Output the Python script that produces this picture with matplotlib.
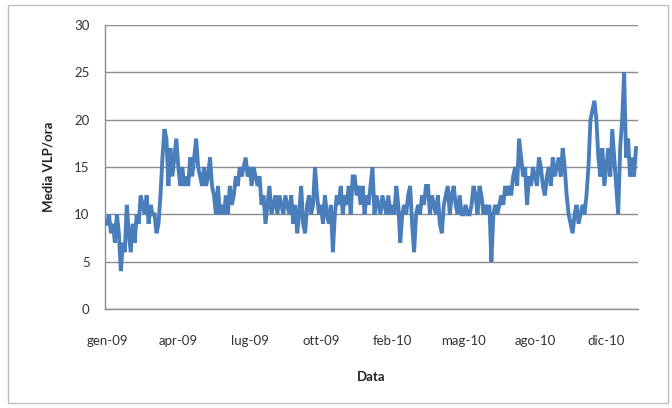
import matplotlib
matplotlib.use("Agg")
import matplotlib.pyplot as plt
from matplotlib.patches import Rectangle

# Daily average VLP per hour, Jan 2009 - Dec 2010
media_vlp_ora = [
    9, 10, 8, 9, 7, 10, 8, 4, 7, 6, 11, 8,
    6, 9, 7, 10, 9, 12, 11, 10, 12, 9, 11, 10,
    10, 8, 9, 12, 16, 19, 18, 13, 17, 14, 16, 18,
    15, 13, 15, 13, 14, 13, 16, 14, 16, 18, 15, 14,
    13, 15, 13, 14, 16, 13, 12, 10, 13, 10, 11, 10,
    12, 10, 13, 11, 12, 14, 13, 15, 14, 15, 16, 14,
    15, 13, 15, 14, 13, 14, 11, 12, 9, 11, 13, 10,
    11, 12, 10, 12, 11, 10, 12, 11, 10, 12, 9, 11,
    8, 10, 13, 9, 8, 11, 12, 10, 11, 15, 12, 10,
    11, 9, 12, 10, 9, 11, 6, 10, 12, 11, 13, 10,
    12, 11, 13, 10, 14, 14, 12, 13, 11, 13, 10, 12,
    11, 13, 15, 10, 12, 11, 10, 12, 11, 10, 12, 10,
    11, 10, 13, 11, 7, 10, 11, 10, 12, 13, 9, 6,
    10, 11, 10, 12, 11, 13, 13, 10, 12, 11, 10, 12,
    9, 8, 11, 12, 13, 10, 12, 13, 11, 10, 12, 10,
    10, 11, 10, 10, 11, 13, 12, 10, 13, 12, 10, 11,
    10, 11, 5, 10, 11, 10, 11, 12, 11, 13, 12, 13,
    12, 14, 15, 13, 18, 16, 14, 15, 11, 14, 13, 15,
    14, 13, 16, 15, 13, 12, 14, 15, 13, 16, 14, 15,
    16, 14, 17, 15, 12, 10, 9, 8, 10, 11, 9, 10,
    11, 10, 12, 15, 20, 21, 22, 20, 16, 14, 17, 13,
    15, 17, 14, 19, 16, 13, 10, 17, 20, 25, 16, 18,
    14, 16, 14, 17,
]
month_labels = ["gen-09", "apr-09", "lug-09", "ott-09",
                "feb-10", "mag-10", "ago-10", "dic-10"]
label_step = 36
y_ticks = [0, 5, 10, 15, 20, 25, 30]

plt.rcParams["font.family"] = ["Lato", "DejaVu Sans"]

fig = plt.figure(figsize=(6.72, 4.08), dpi=100)
fig.patch.set_facecolor("white")

# chart-area frame
fig.patches.append(Rectangle((8 / 672, 5 / 408), 660 / 672, 398 / 408,
                             transform=fig.transFigure, fill=False,
                             edgecolor="#bfbfbf", linewidth=1.0))

ax = fig.add_axes([105 / 672, 1 - 309 / 408, 533 / 672, 284 / 408])

x = list(range(len(media_vlp_ora)))
ax.plot(x, media_vlp_ora, color="#4a7ebb", linewidth=2.8,
        solid_joinstyle="miter", zorder=3)

ax.set_xlim(-1, len(media_vlp_ora))
ax.set_ylim(0, 30)
ax.set_yticks(y_ticks)
ax.set_yticklabels([str(v) for v in y_ticks])
ax.set_xticks([i * label_step for i in range(len(month_labels))])
ax.set_xticklabels(month_labels)

ax.grid(axis="y", color="#8c8c8c", linewidth=1.0, zorder=1)
ax.set_axisbelow(True)
for side in ("top", "right"):
    ax.spines[side].set_visible(False)
for side in ("left", "bottom"):
    ax.spines[side].set_color("#8c8c8c")
    ax.spines[side].set_linewidth(1.0)

ax.tick_params(axis="both", length=0, labelsize=9.5, colors="#333333")
ax.tick_params(axis="y", pad=11)
ax.tick_params(axis="x", pad=19)

ax.set_ylabel("Media VLP/ora", fontsize=9.5, fontweight="bold",
              color="#222222", labelpad=14)
ax.set_xlabel("Data", fontsize=9.5, fontweight="bold",
              color="#222222", labelpad=17)

fig.savefig("out.png", dpi=100, facecolor="white")
